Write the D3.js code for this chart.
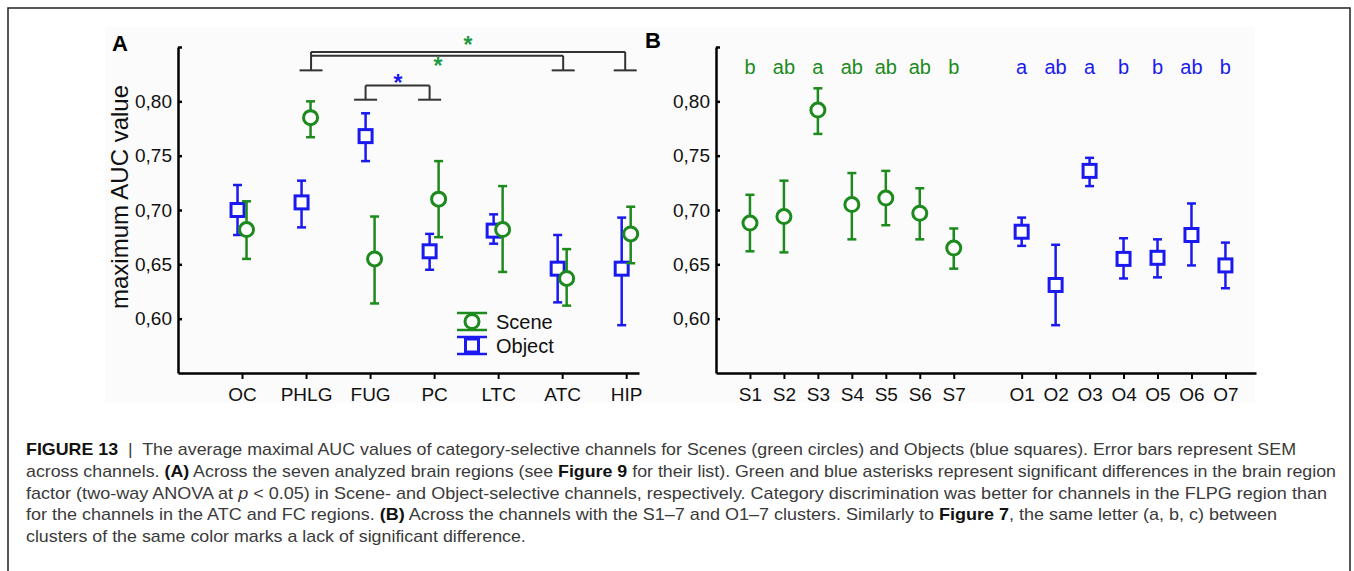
<!DOCTYPE html>
<html>
<head>
<meta charset="utf-8">
<script src="https://cdn.jsdelivr.net/npm/d3@7"></script>
<style>
    body { margin: 0; background: #fff; }
    svg text { font-family: "Liberation Sans", Arial, sans-serif; }
</style>
</head>
<body>
<div id="chart"></div>
<script>
// ---- data ----
const regions   = ["OC", "PHLG", "FUG", "PC", "LTC", "ATC", "HIP"];
const sceneA    = [0.682, 0.785, 0.655, 0.710, 0.682, 0.637, 0.678];
const sceneALo  = [0.655, 0.767, 0.614, 0.675, 0.643, 0.612, 0.651];
const sceneAHi  = [0.708, 0.800, 0.694, 0.745, 0.722, 0.664, 0.703];
const objectA   = [0.700, 0.707, 0.768, 0.662, 0.681, 0.646, 0.646];
const objectALo = [0.677, 0.684, 0.745, 0.645, 0.669, 0.615, 0.594];
const objectAHi = [0.723, 0.727, 0.789, 0.678, 0.696, 0.677, 0.693];

const clustersS = ["S1", "S2", "S3", "S4", "S5", "S6", "S7"];
const clustersO = ["O1", "O2", "O3", "O4", "O5", "O6", "O7"];
const sceneB    = [0.688, 0.694, 0.792, 0.705, 0.711, 0.697, 0.665];
const sceneBLo  = [0.662, 0.661, 0.770, 0.673, 0.686, 0.673, 0.646];
const sceneBHi  = [0.714, 0.727, 0.812, 0.734, 0.736, 0.720, 0.683];
const objectB   = [0.680, 0.631, 0.736, 0.655, 0.656, 0.677, 0.649];
const objectBLo = [0.667, 0.594, 0.722, 0.637, 0.638, 0.649, 0.628];
const objectBHi = [0.693, 0.668, 0.748, 0.674, 0.673, 0.706, 0.670];
const lettersS  = ["b", "ab", "a", "ab", "ab", "ab", "b"];
const lettersO  = ["a", "ab", "a", "b", "b", "ab", "b"];

const yTicks = [0.60, 0.65, 0.70, 0.75, 0.80, 0.85];

// colours
const green = "#1c8a1c";
const blue  = "#1a1af0";
const dark  = "#333";

const W = 1354, H = 571;
const svg = d3.select("#chart").append("svg")
    .attr("width", W)
    .attr("height", H);

// figure frame
svg.append("path")
    .attr("d", `M8,${H + 5} L8,8 L1350,8 L1350,${H + 5}`)
    .attr("fill", "none")
    .attr("stroke", "#222")
    .attr("stroke-width", 1.5);

// faint background of the plotted image
svg.append("rect")
    .attr("x", 105).attr("y", 27)
    .attr("width", 1150).attr("height", 376)
    .attr("fill", "#fbfbfb");

const fmt = d => d.toFixed(2).replace(".", ",");

function yAxis(g, y) {
    g.call(d3.axisLeft(y)
            .tickValues(yTicks)
            .tickSizeInner(-4)
            .tickSizeOuter(0)
            .tickPadding(6)
            .tickFormat(d => d > 0.81 ? "" : fmt(d)))
        .call(g => g.select(".domain").attr("stroke-width", 2.5))
        .call(g => g.selectAll(".tick line").attr("stroke-width", 2.5))
        .call(g => g.selectAll("text").attr("font-size", 19).attr("fill", "#111"));
}

function xAxis(g, x, vals, labels) {
    g.call(d3.axisBottom(x)
            .tickValues(vals)
            .tickSizeInner(6)
            .tickSizeOuter(0)
            .tickPadding(9)
            .tickFormat((d, i) => labels[i]))
        .call(g => g.select(".domain").attr("stroke-width", 2.5))
        .call(g => g.selectAll(".tick line").attr("stroke-width", 2))
        .call(g => g.selectAll("text").attr("font-size", 19).attr("fill", "#111"));
}

// error bar + marker
function errorBars(g, xs, mid, lo, hi, y, color, shape) {
    const cap = 4.5;
    const grp = g.append("g");
    mid.forEach((v, i) => {
        const cx = xs[i];
        grp.append("line")
            .attr("x1", cx).attr("x2", cx)
            .attr("y1", y(lo[i])).attr("y2", y(hi[i]))
            .attr("stroke", color).attr("stroke-width", 2.5);
        [lo[i], hi[i]].forEach(e => {
            grp.append("line")
                .attr("x1", cx - cap).attr("x2", cx + cap)
                .attr("y1", y(e)).attr("y2", y(e))
                .attr("stroke", color).attr("stroke-width", 2.5);
        });
        if (shape === "circle") {
            grp.append("circle")
                .attr("cx", cx).attr("cy", y(v)).attr("r", 7)
                .attr("fill", "#fff").attr("stroke", color).attr("stroke-width", 3);
        } else {
            grp.append("rect")
                .attr("x", cx - 6.5).attr("y", y(v) - 6.5)
                .attr("width", 13).attr("height", 13)
                .attr("fill", "#fff").attr("stroke", color).attr("stroke-width", 3);
        }
    });
}

// ================= Panel A =================
const xA = d3.scaleLinear().domain([0, 7.2]).range([178, 639]);
const yA = d3.scaleLinear().domain([0.55, 0.85]).range([373, 47]);
const idxA = regions.map((d, i) => i + 1);
const off = 4.5;

svg.append("text")
    .attr("x", 112).attr("y", 51)
    .attr("font-size", 22).attr("font-weight", "bold")
    .text("A");

svg.append("g").attr("transform", `translate(${xA(0)},0)`).call(g => yAxis(g, yA));
svg.append("g").attr("transform", `translate(0,${yA(0.55)})`).call(g => xAxis(g, xA, idxA, regions));

svg.append("text")
    .attr("transform", "translate(128,197) rotate(-90)")
    .attr("text-anchor", "middle")
    .attr("font-size", 24)
    .attr("fill", "#111")
    .text("maximum AUC value");

// significance brackets
function bracket(i, topY, capY, dx) {
    const cx = xA(i) + dx;
    svg.append("line")
        .attr("x1", cx - 11.5).attr("x2", cx + 11.5)
        .attr("y1", capY).attr("y2", capY)
        .attr("stroke", dark).attr("stroke-width", 2);
    svg.append("line")
        .attr("x1", cx).attr("x2", cx)
        .attr("y1", capY).attr("y2", topY)
        .attr("stroke", dark).attr("stroke-width", 2);
    return cx;
}
// green: PHLG vs ATC and HIP
const capG = yA(0.8285);
const topG1 = yA(0.8455), topG2 = yA(0.842);
const gP = bracket(2, topG1, capG, 5);
const gA = bracket(6, topG2, capG, 1);
const gH = bracket(7, topG1, capG, -1);
svg.append("line").attr("x1", gP).attr("x2", gH).attr("y1", topG1).attr("y2", topG1)
    .attr("stroke", dark).attr("stroke-width", 2);
svg.append("line").attr("x1", gP).attr("x2", gA).attr("y1", topG2).attr("y2", topG2)
    .attr("stroke", dark).attr("stroke-width", 2);
// blue: FUG vs PC
const capB = yA(0.8015), topB = yA(0.8145);
const bF = bracket(3, topB, capB, -off);
const bC = bracket(4, topB, capB, -off);
svg.append("line").attr("x1", bF).attr("x2", bC).attr("y1", topB).attr("y2", topB)
    .attr("stroke", dark).attr("stroke-width", 2);

const star = (x, y, c) => svg.append("text")
    .attr("x", x).attr("y", y)
    .attr("text-anchor", "middle")
    .attr("font-size", 23).attr("font-weight", "bold")
    .attr("fill", c).text("*");
star(468, 53, "#1e9a45");
star(438, 74, "#1e9a45");
star(398, 91, blue);

const gA_ = svg.append("g");
errorBars(gA_, idxA.map(i => xA(i) - off), objectA, objectALo, objectAHi, yA, blue, "square");
errorBars(gA_, idxA.map(i => xA(i) + off), sceneA, sceneALo, sceneAHi, yA, green, "circle");

// legend
const leg = svg.append("g").attr("transform", "translate(472,0)");
[["Scene", green, "circle", 321.5], ["Object", blue, "square", 345.5]].forEach(([lab, c, sh, cy]) => {
    [-8.5, 8.5].forEach(d => leg.append("line")
        .attr("x1", -15).attr("x2", 15)
        .attr("y1", cy + d).attr("y2", cy + d)
        .attr("stroke", c).attr("stroke-width", 2.5));
    leg.append("line").attr("x1", 0).attr("x2", 0)
        .attr("y1", cy - 8.5).attr("y2", cy + 8.5)
        .attr("stroke", c).attr("stroke-width", 2.5);
    if (sh === "circle") {
        leg.append("circle").attr("cx", 0).attr("cy", cy).attr("r", 7)
            .attr("fill", "#fff").attr("stroke", c).attr("stroke-width", 3);
    } else {
        leg.append("rect").attr("x", -6.5).attr("y", cy - 6.5).attr("width", 13).attr("height", 13)
            .attr("fill", "#fff").attr("stroke", c).attr("stroke-width", 3);
    }
    leg.append("text")
        .attr("x", 24).attr("y", cy + 7)
        .attr("font-size", 20).attr("fill", "#111")
        .text(lab);
});

// ================= Panel B =================
const xB = d3.scaleLinear().domain([0, 15.9]).range([716, 1256]);
const yB = d3.scaleLinear().domain([0.55, 0.85]).range([373, 47]);
const idxS = clustersS.map((d, i) => i + 1);
const idxO = clustersO.map((d, i) => i + 9);

svg.append("text")
    .attr("x", 645).attr("y", 48)
    .attr("font-size", 22).attr("font-weight", "bold")
    .text("B");

svg.append("g").attr("transform", `translate(${xB(0)},0)`).call(g => yAxis(g, yB));
svg.append("g").attr("transform", `translate(0,${yB(0.55)})`)
    .call(g => xAxis(g, xB, idxS.concat(idxO), clustersS.concat(clustersO)));

const gB = svg.append("g");
errorBars(gB, idxS.map(xB), sceneB, sceneBLo, sceneBHi, yB, green, "circle");
errorBars(gB, idxO.map(xB), objectB, objectBLo, objectBHi, yB, blue, "square");

gB.selectAll(".letS").data(lettersS).join("text")
    .attr("x", (d, i) => xB(idxS[i]))
    .attr("y", 74)
    .attr("text-anchor", "middle")
    .attr("font-size", 20).attr("fill", green)
    .text(d => d);
gB.selectAll(".letO").data(lettersO).join("text")
    .attr("x", (d, i) => xB(idxO[i]))
    .attr("y", 74)
    .attr("text-anchor", "middle")
    .attr("font-size", 20).attr("fill", blue)
    .text(d => d);

// ================= Caption =================
const caption = [
    { y: 455, w: 1270, parts: [["FIGURE 13", "b"], ["  |  The average maximal AUC values of category-selective channels for Scenes (green circles) and Objects (blue squares). Error bars represent SEM", ""]] },
    { y: 477, w: 1310, parts: [["across channels. ", ""], ["(A)", "b"], [" Across the seven analyzed brain regions (see ", ""], ["Figure 9", "b"], [" for their list). Green and blue asterisks represent significant differences in the brain region", ""]] },
    { y: 499, w: 1301, parts: [["factor (two-way ANOVA at ", ""], ["p", "i"], [" < 0.05) in Scene- and Object-selective channels, respectively. Category discrimination was better for channels in the FLPG region than", ""]] },
    { y: 520, w: 1251, parts: [["for the channels in the ATC and FC regions. ", ""], ["(B)", "b"], [" Across the channels with the S1–7 and O1–7 clusters. Similarly to ", ""], ["Figure 7", "b"], [", the same letter (a, b, c) between", ""]] },
    { y: 542, w: null, parts: [["clusters of the same color marks a lack of significant difference.", ""]] }
];
let ratio = 1;
caption.forEach((line, k) => {
    const t = svg.append("text")
        .attr("x", 26).attr("y", line.y)
        .attr("font-size", 17)
        .attr("fill", "#3a3a3a")
        .style("white-space", "pre");
    line.parts.forEach(([s, st]) => {
        const ts = t.append("tspan").text(s);
        if (st === "b") ts.attr("font-weight", "bold").attr("fill", "#111");
        if (st === "i") ts.attr("font-style", "italic");
    });
    const natural = t.node().getComputedTextLength();
    if (k === 0) ratio = line.w / natural;
    t.attr("textLength", line.w || natural * ratio)
        .attr("lengthAdjust", "spacingAndGlyphs");
});
</script>
</body>
</html>
